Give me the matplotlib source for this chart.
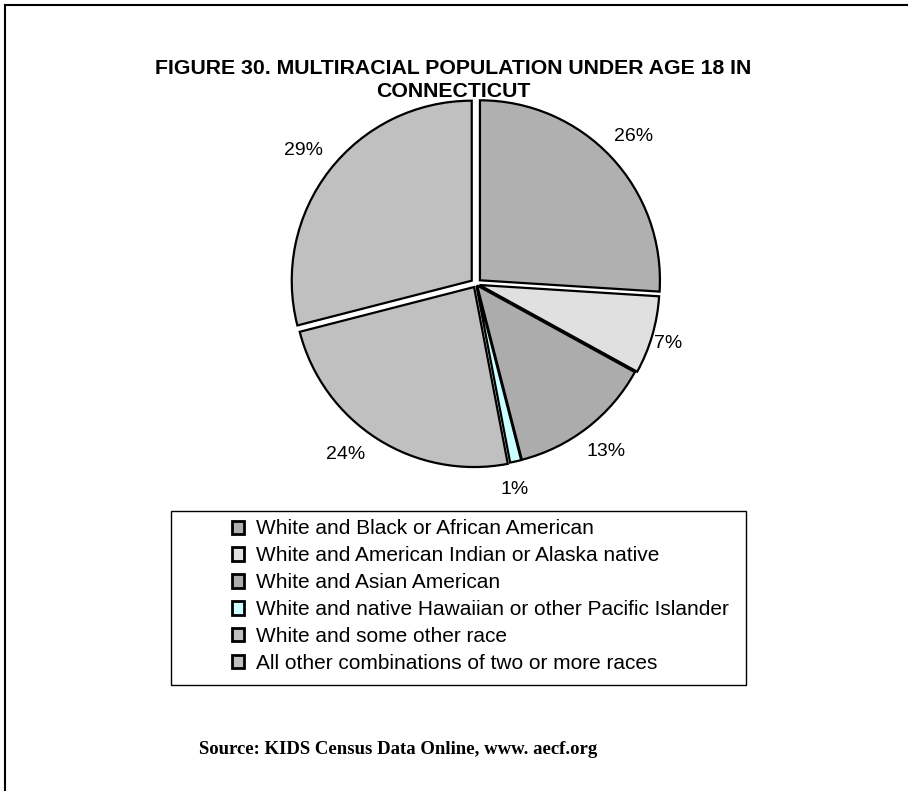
import numpy as np
import matplotlib
matplotlib.use("Agg")
import matplotlib.pyplot as plt
from matplotlib.patches import Rectangle
from matplotlib.lines import Line2D

categories = [
    "White and Black or African American",
    "White and American Indian or Alaska native",
    "White and Asian American",
    "White and native Hawaiian or other Pacific Islander",
    "White and some other race",
    "All other combinations of two or more races",
]
shares = [26, 7, 13, 1, 24, 29]
colors = ["#b0b0b0", "#e0e0e0", "#acacac", "#ccffff", "#c0c0c0", "#c0c0c0"]
explode = [0.03, 0.02, 0.01, 0.01, 0.02, 0.03]

# per-label radial distance and angular nudge (degrees) for the percentage labels
label_dist = [1.20, 1.12, 1.18, 1.16, 1.19, 1.21]
label_turn = [0, -1, 0, -2, -5, 0]

title = "FIGURE 30. MULTIRACIAL POPULATION UNDER AGE 18 IN\nCONNECTICUT"
source = "Source: KIDS Census Data Online, www. aecf.org"

W, H = 908, 794
fig = plt.figure(figsize=(W / 100, H / 100), dpi=100)
fig.patch.set_facecolor("white")

def fx(px):
    return px / W

def fy(py):
    return 1 - py / H

# page frame: top and left rules
fig.add_artist(Line2D([fx(5), fx(908)], [fy(5), fy(5)], color="black", lw=1.5))
fig.add_artist(Line2D([fx(5), fx(5)], [fy(5), fy(790)], color="black", lw=1.5))

fig.text(fx(453), fy(80), title, ha="center", va="center", fontsize=15.3,
         fontweight="bold", family="Liberation Sans", linespacing=1.25)

# pie
cx, cy, R = 476, 284, 180
k = 1.35
side = 2 * k * R
ax = fig.add_axes([fx(cx - side / 2), fy(cy + side / 2), side / W, side / H])

wedges, texts = ax.pie(
    shares, colors=colors, explode=explode, startangle=90, counterclock=False,
    labels=[f"{v}%" for v in shares], labeldistance=1.18,
    wedgeprops=dict(edgecolor="black", linewidth=1.6),
    textprops=dict(fontsize=14, family="Liberation Sans"),
)
for w, t, d, turn in zip(wedges, texts, label_dist, label_turn):
    mid = np.deg2rad((w.theta1 + w.theta2) / 2 + turn)
    t.set_position((d * np.cos(mid), d * np.sin(mid)))
    t.set_ha("center")
    t.set_va("center")
ax.set_xlim(-k, k)
ax.set_ylim(-k, k)
ax.set_aspect("equal")
ax.axis("off")

# legend box
lx0, ly0, lx1, ly1 = 171, 511, 746, 685
fig.add_artist(Rectangle((fx(lx0), fy(ly1)), fx(lx1) - fx(lx0), fy(ly0) - fy(ly1),
                         facecolor="none", edgecolor="black", lw=1.0))
handles = [Rectangle((0, 0), 1, 1, facecolor=c, edgecolor="black", lw=2.0) for c in colors]
fig.legend(handles, categories, loc="upper left", bbox_to_anchor=(fx(219), fy(507)),
           frameon=False, prop=dict(family="Liberation Sans", size=15),
           handlelength=0.6, handleheight=0.6, handletextpad=0.6,
           labelspacing=0.38, borderpad=0.1)

fig.text(fx(398), fy(750), source, ha="center", va="center", fontsize=13.5,
         fontweight="bold", family="Liberation Serif")

fig.savefig("out.png", dpi=100)
